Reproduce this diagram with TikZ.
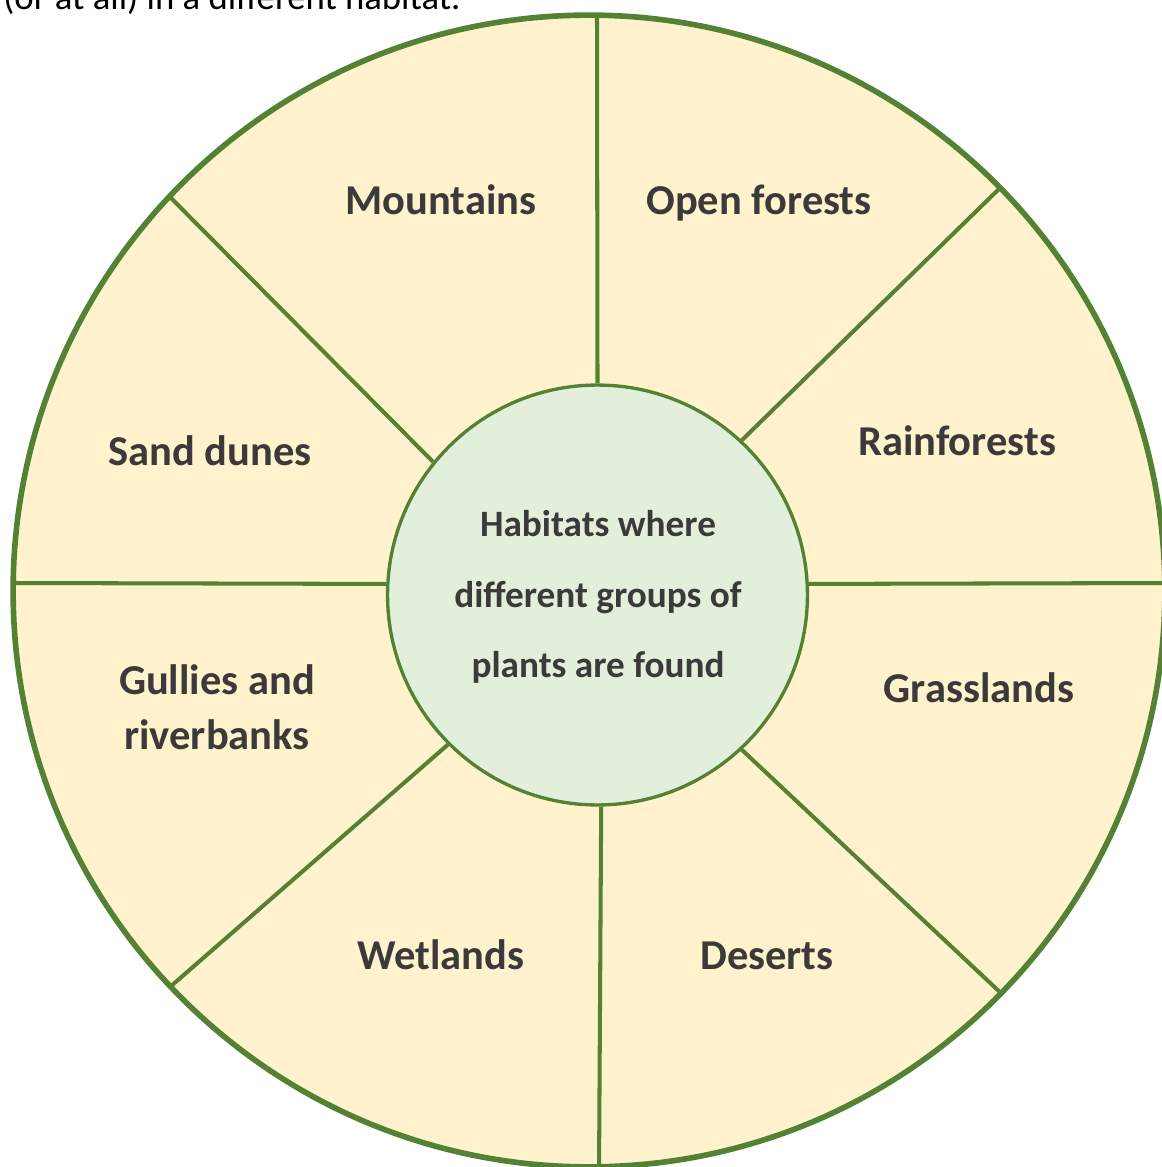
\documentclass[tikz,border=0pt]{standalone}
\usepackage{fontspec}
\setmainfont{Carlito}
\definecolor{rimfill}{HTML}{FFF2CC}
\definecolor{hubfill}{HTML}{E2EFDA}
\definecolor{leaf}{HTML}{548235}
\definecolor{ink}{HTML}{3A3A3A}
\tikzset{
  rimstyle/.style={circle, draw=leaf, fill=rimfill, line width=3.2pt, minimum size=23.04cm, inner sep=0pt},
  hubstyle/.style={circle, draw=leaf, fill=hubfill, line width=1.9pt, minimum size=8.4cm, inner sep=0pt},
  divider/.style={draw=leaf, line width=2.3pt},
  label/.style={anchor=base, inner sep=0pt, text=ink, font=\fontsize{24.2pt}{30pt}\selectfont\bfseries},
  hublabel/.style={anchor=base, inner sep=0pt, text=ink, font=\fontsize{21.2pt}{26pt}\selectfont\bfseries},
  toptext/.style={anchor=base west, inner sep=0pt, text=black, font=\fontsize{20.9pt}{26pt}\selectfont}
}
\begin{document}
\begin{tikzpicture}[x=0.02cm, y=-0.02cm]
\useasboundingbox (0,0) rectangle (1162,1167);
% cut-off line of text at the top (as in the reference)
\node[toptext] (intro) at (3,9) {(or at all) in a different habitat.};
% outer ring
\node[rimstyle] (rim) at (589,591) {};
% hub
\node[hubstyle] (hub) at (597.5,595) {};
% outer ends of dividers
\coordinate (eT)  at (597,15);
\coordinate (eUR) at (1000,188);
\coordinate (eR)  at (1175,583);
\coordinate (eLR) at (1003,995);
\coordinate (eB)  at (599,1175);
\coordinate (eLL) at (170,987);
\coordinate (eL)  at (13,583);
\coordinate (eUL) at (170,197);
% dividers
\draw[divider] (hub.90)  -- (eT);
\draw[divider] (hub.47)  -- (eUR);
\draw[divider] (hub.3)   -- (eR);
\draw[divider] (hub.-47) -- (eLR);
\draw[divider] (hub.-89) -- (eB);
\draw[divider] (hub.225) -- (eLL);
\draw[divider] (hub.177) -- (eL);
\draw[divider] (hub.141.6) -- (eUL);
% labels
\node[label] (mount) at (441,214) {Mountains};
\node[label] (openf) at (759,214) {Open forests};
\node[label] (sand)  at (210,465) {Sand dunes};
\node[label] (rainf) at (957,455) {Rainforests};
\node[label] (grass) at (979,702) {Grasslands};
\node[label] (gul1)  at (217,694) {Gullies and};
\node[label] (gul2)  at (217,749) {riverbanks};
\node[label] (wet)   at (441,969) {Wetlands};
\node[label] (des)   at (767,969) {Deserts};
% hub text
\node[hublabel] (h1) at (598,536) {Habitats where};
\node[hublabel] (h2) at (598,607) {different groups of};
\node[hublabel] (h3) at (598,677) {plants are found};
\end{tikzpicture}
\end{document}
